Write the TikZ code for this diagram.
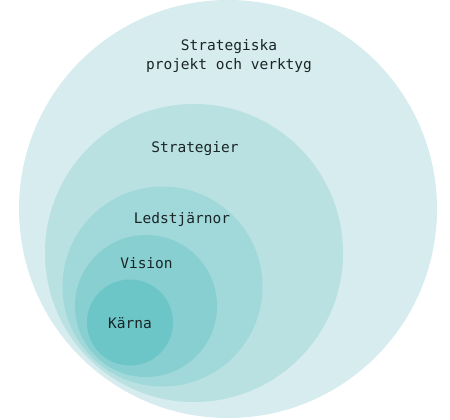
\documentclass[tikz,border=0pt]{standalone}
\usepackage{fontspec}
\setmonofont{DejaVu Sans Mono}
\definecolor{cA}{HTML}{D6ECEE}
\definecolor{cB}{HTML}{B9E1E2}
\definecolor{cC}{HTML}{A1D8DA}
\definecolor{cD}{HTML}{88CFD1}
\definecolor{cE}{HTML}{6CC6C8}
\definecolor{txt}{HTML}{1A2526}
\tikzset{lbl/.style={font=\ttfamily\fontsize{14.5}{19}\selectfont, text=txt, align=center, inner sep=0pt}}
\begin{document}
\begin{tikzpicture}[x=1pt,y=-1pt]
\useasboundingbox (0,0) rectangle (450,420);
\fill[white] (0,0) rectangle (450,420);
\fill[cA] (228,209) circle (209);
\fill[cB] (194,253) circle (149);
\fill[cC] (162.5,286.5) circle (100);
\fill[cD] (146,306) circle (71);
\fill[cE] (130,322.5) circle (43);
\node[lbl] (t1) at (229,56) {Strategiska\\projekt och verktyg};
\node[lbl] (t2) at (195,149) {Strategier};
\node[lbl] (t3) at (182,219) {Ledstjärnor};
\node[lbl] (t4) at (146.5,263) {Vision};
\node[lbl] (t5) at (130,323) {Kärna};
\end{tikzpicture}
\end{document}
